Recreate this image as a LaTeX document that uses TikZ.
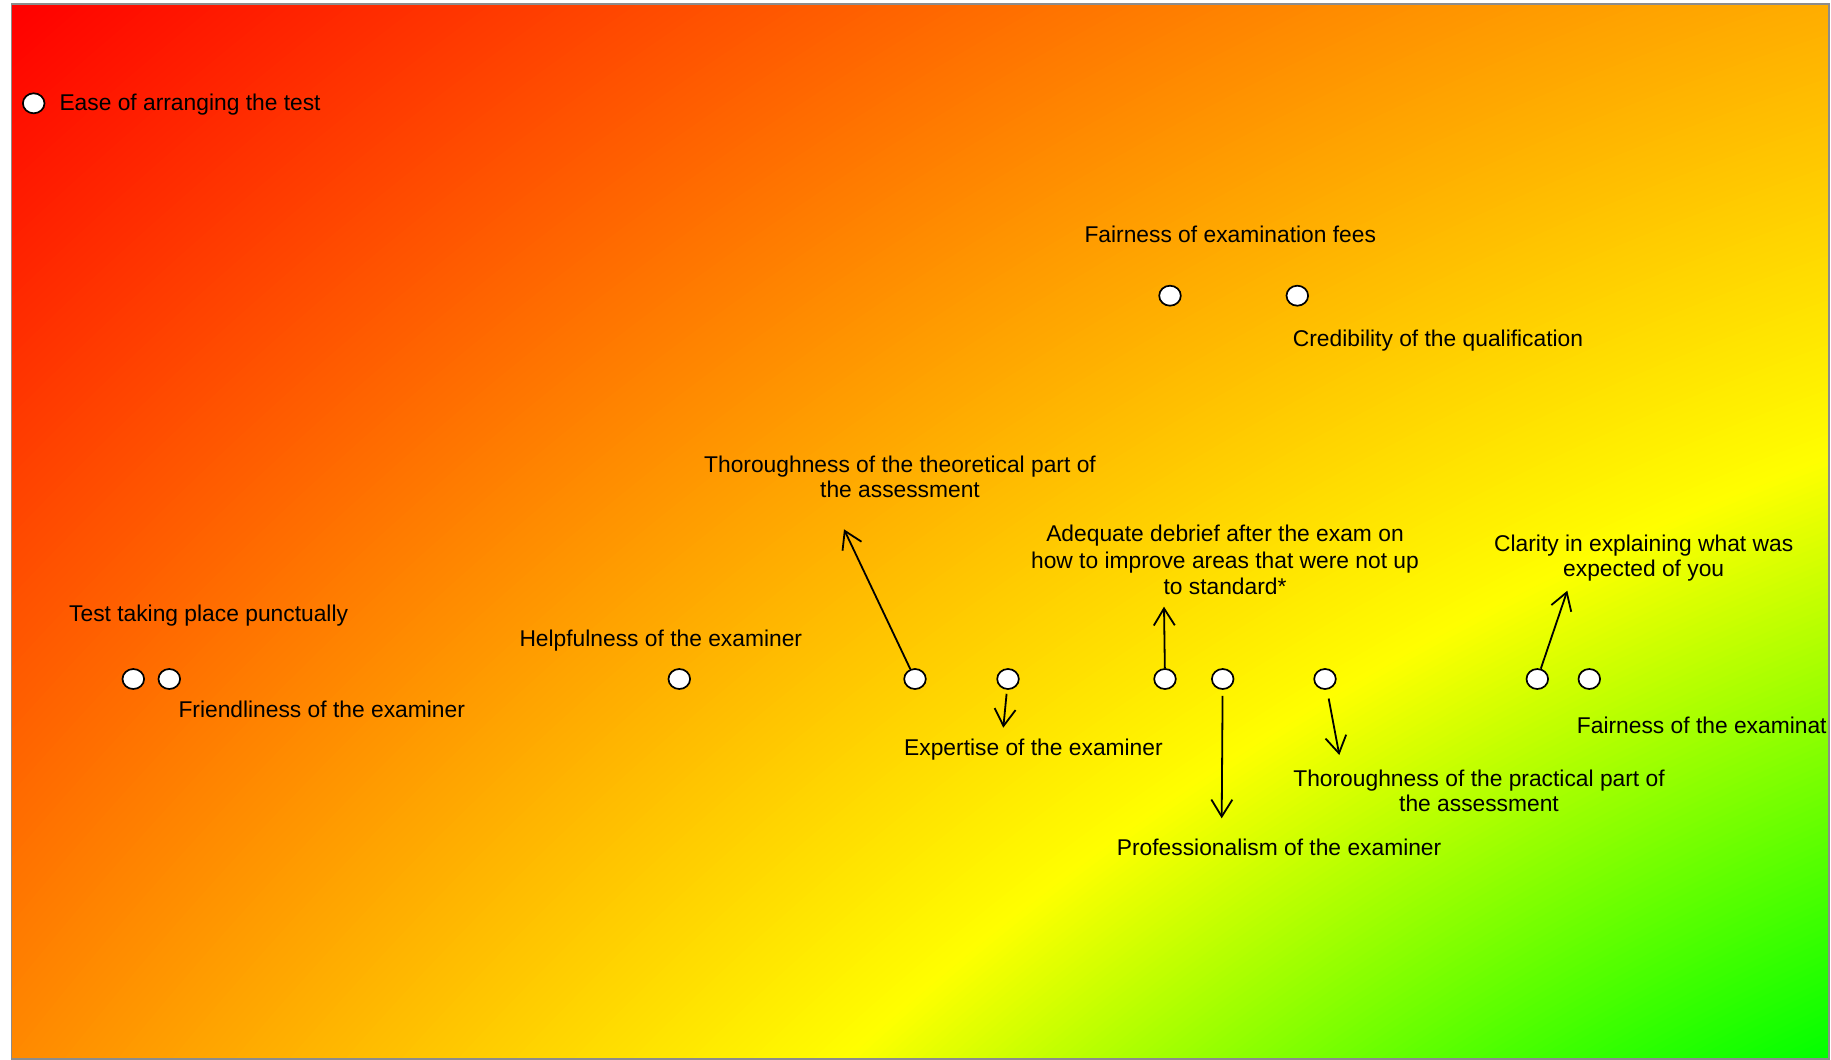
\documentclass[tikz,border=0pt]{standalone}
\usepackage{fontspec}
\setmainfont{Liberation Sans}
\usetikzlibrary{shapes.geometric,arrows.meta}
\begin{document}
\begin{tikzpicture}[x=1pt,y=-1pt,
  dot/.style={ellipse,draw=black,fill=white,line width=1.7pt,minimum width=21.6pt,minimum height=20pt,inner sep=0pt},
  lbl/.style={inner sep=0pt,font=\fontsize{22.8}{25}\selectfont,text=black},
  arr/.style={line width=1.8pt,-{Straight Barb[length=17pt,width=21pt]}}
]
\useasboundingbox (0,0) rectangle (1831,1060);
\fill[white] (0,0) rectangle (1831,1060);
\begin{scope}
\clip (11.5,4) rectangle (1829,1059);
% radial background: red -> yellow
\foreach \i in {0,...,225}{
  \pgfmathsetmacro\rr{4362-\i*6}
  \pgfmathtruncatemacro\gg{max(0,min(255,(4350-\rr)/1341*255))}
  \definecolor{gc}{RGB}{255,\gg,0}
  \fill[gc] (2876,3278) circle[radius=\rr];
}
% yellow -> green
\foreach \i in {0,...,96}{
  \pgfmathsetmacro\rr{3006-\i*6}
  \pgfmathtruncatemacro\rc{max(0,min(255,255*(1-(3009-\rr)/556)))}
  \definecolor{gc}{RGB}{\rc,255,0}
  \fill[gc] (2876,3278) circle[radius=\rr];
}

% dots
\node[dot] (cEase) at (33.7,103.3) {};
\node[dot] (cFees) at (1170,295.7) {};
\node[dot] (cCred) at (1297.3,295.7) {};
\node[dot] (cTest) at (133.3,679) {};
\node[dot] (cFriend) at (169.3,679) {};
\node[dot] (cHelp) at (679.3,679) {};
\node[dot] (cTheo) at (915,679) {};
\node[dot] (cExp) at (1008,679) {};
\node[dot] (cAdeq) at (1165,679) {};
\node[dot] (cProf) at (1222.7,679) {};
\node[dot] (cPrac) at (1325,679) {};
\node[dot] (cClar) at (1537.3,679) {};
\node[dot] (cFairEx) at (1589.3,679) {};

% labels
\node[lbl,anchor=base west] (lEase) at (59.3,110) {Ease of arranging the test};
\node[lbl,anchor=base west] (lFees) at (1084.3,242.7) {Fairness of examination fees};
\node[lbl,anchor=base west] (lCred) at (1292.7,346.7) {Credibility of the qualification};
\node[lbl,anchor=base west] (lTest) at (69,621.7) {Test taking place punctually};
\node[lbl,anchor=base west] (lFriend) at (178.3,717.7) {Friendliness of the examiner};
\node[lbl,anchor=base west] (lHelp) at (519.3,646.7) {Helpfulness of the examiner};
\node[lbl,anchor=base west] (lExp) at (904,755) {Expertise of the examiner};
\node[lbl,anchor=base west] (lProf) at (1116.7,855) {Professionalism of the examiner};
\node[lbl,anchor=base west] (lFairEx) at (1576.7,733.3) {Fairness of the examination};
\node[lbl,align=center,anchor=north] (lTheo) at (900,455.8) {Thoroughness of the theoretical part of\\the assessment};
\node[lbl,align=center,anchor=north,font=\fontsize{22.8}{26.3}\selectfont] (lAdeq) at (1225,525.2) {Adequate debrief after the exam on\\how to improve areas that were not up\\to standard*};
\node[lbl,align=center,anchor=north] (lPrac) at (1479,770.2) {Thoroughness of the practical part of\\the assessment};
\node[lbl,align=center,anchor=north] (lClar) at (1643.7,535.2) {Clarity in explaining what was\\expected of you};

% arrow ends
\coordinate (tTheo) at (844,529.3);
\coordinate (tExp) at (1003.3,727.7);
\coordinate (tAdeq) at (1164,606.7);
\coordinate (tProf) at (1221.7,818.3);
\coordinate (tPrac) at (1339.3,755);
\coordinate (tClar) at (1567.3,590.7);

\draw[arr] (cTheo) -- (tTheo);
\draw[arr,shorten <=4pt] (cExp) -- (tExp);
\draw[arr] (cAdeq) -- (tAdeq);
\draw[arr,shorten <=6pt] (cProf) -- (tProf);
\draw[arr,shorten <=9pt] (cPrac) -- (tPrac);
\draw[arr] (cClar) -- (tClar);
\end{scope}
\draw[color={rgb,255:red,140;green,140;blue,140},line width=1.5pt] (11.5,4) rectangle (1829,1059);
\end{tikzpicture}
\end{document}
